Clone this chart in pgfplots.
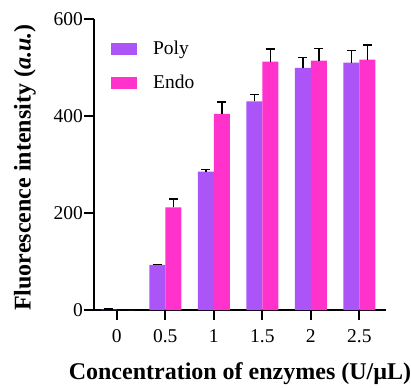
\documentclass[border=0pt]{standalone}
\usepackage{fontspec}
\setmainfont{Liberation Serif}
\usepackage{pgfplots}
\pgfplotsset{compat=1.18}
\definecolor{polyc}{RGB}{171,84,247}
\definecolor{endoc}{RGB}{255,51,204}
\begin{document}
\begin{tikzpicture}
\useasboundingbox (-94pt,-77pt) rectangle (317pt,310pt);
\begin{axis}[
  at={(0pt,0pt)}, anchor=south west,
  scale only axis,
  width=292pt, height=290.5pt,
  xmin=-0.47, xmax=5.55,
  ymin=0, ymax=600,
  ytick={0,200,400,600},
  yticklabels={0,200,400,600},
  xtick={0,1,2,3,4,5},
  xticklabels={0,0.5,1,1.5,2,2.5},
  axis x line*=bottom, axis y line*=left,
  axis line style={line width=2.2pt, -},
  tick style={line width=2pt, black},
  major tick length=10pt,
  tick align=outside,
  ybar=0pt, bar width=16pt,
  tick label style={font=\fontsize{19.5}{21}\selectfont},
  yticklabel style={xshift=2.5pt},
  xticklabel style={yshift=-6pt},
  xlabel={\textbf{Concentration of enzymes (U/\textmu L)}},
  ylabel={\textbf{Fluorescence intensity (\textit{a.u.})}},
  label style={font=\fontsize{24}{26}\selectfont},
  xlabel style={at={(axis description cs:0.5,0)}, anchor=center, yshift=-64pt},
  ylabel style={at={(axis description cs:0,0.49)}, anchor=center, yshift=69pt},
  legend style={draw=none, fill=none, at={(axis description cs:0.058,0.924)}, anchor=north west,
    inner sep=0pt, font=\fontsize{19.5}{20}\selectfont, row sep=17pt, column sep=0pt,
    nodes={inner sep=0pt, text height=13pt, text depth=4pt, anchor=base west}},
  legend image code/.code={\fill[#1] (0pt,-0.5pt) rectangle (26pt,11.5pt);},
  legend cell align=left,
  error bars/y dir=plus, error bars/y explicit,
  error bars/error bar style={line width=1.4pt, black},
  error bars/error mark options={rotate=90, mark size=4.5pt, line width=1.4pt, black},
]
\addplot[fill=polyc, draw=none] coordinates {
  (0,1) +- (0,1)
  (1,93) +- (0,1)
  (2,286) +- (0,4)
  (3,431) +- (0,14)
  (4,500) +- (0,21)
  (5,511) +- (0,25)
};
\addplot[fill=endoc, draw=none] coordinates {
  (0,0) +- (0,0)
  (1,212) +- (0,17)
  (2,405) +- (0,25)
  (3,513) +- (0,26)
  (4,515) +- (0,25)
  (5,517) +- (0,30)
};
\legend{\hspace{16pt}Poly,\hspace{16pt}Endo}
\end{axis}
\end{tikzpicture}
\end{document}
